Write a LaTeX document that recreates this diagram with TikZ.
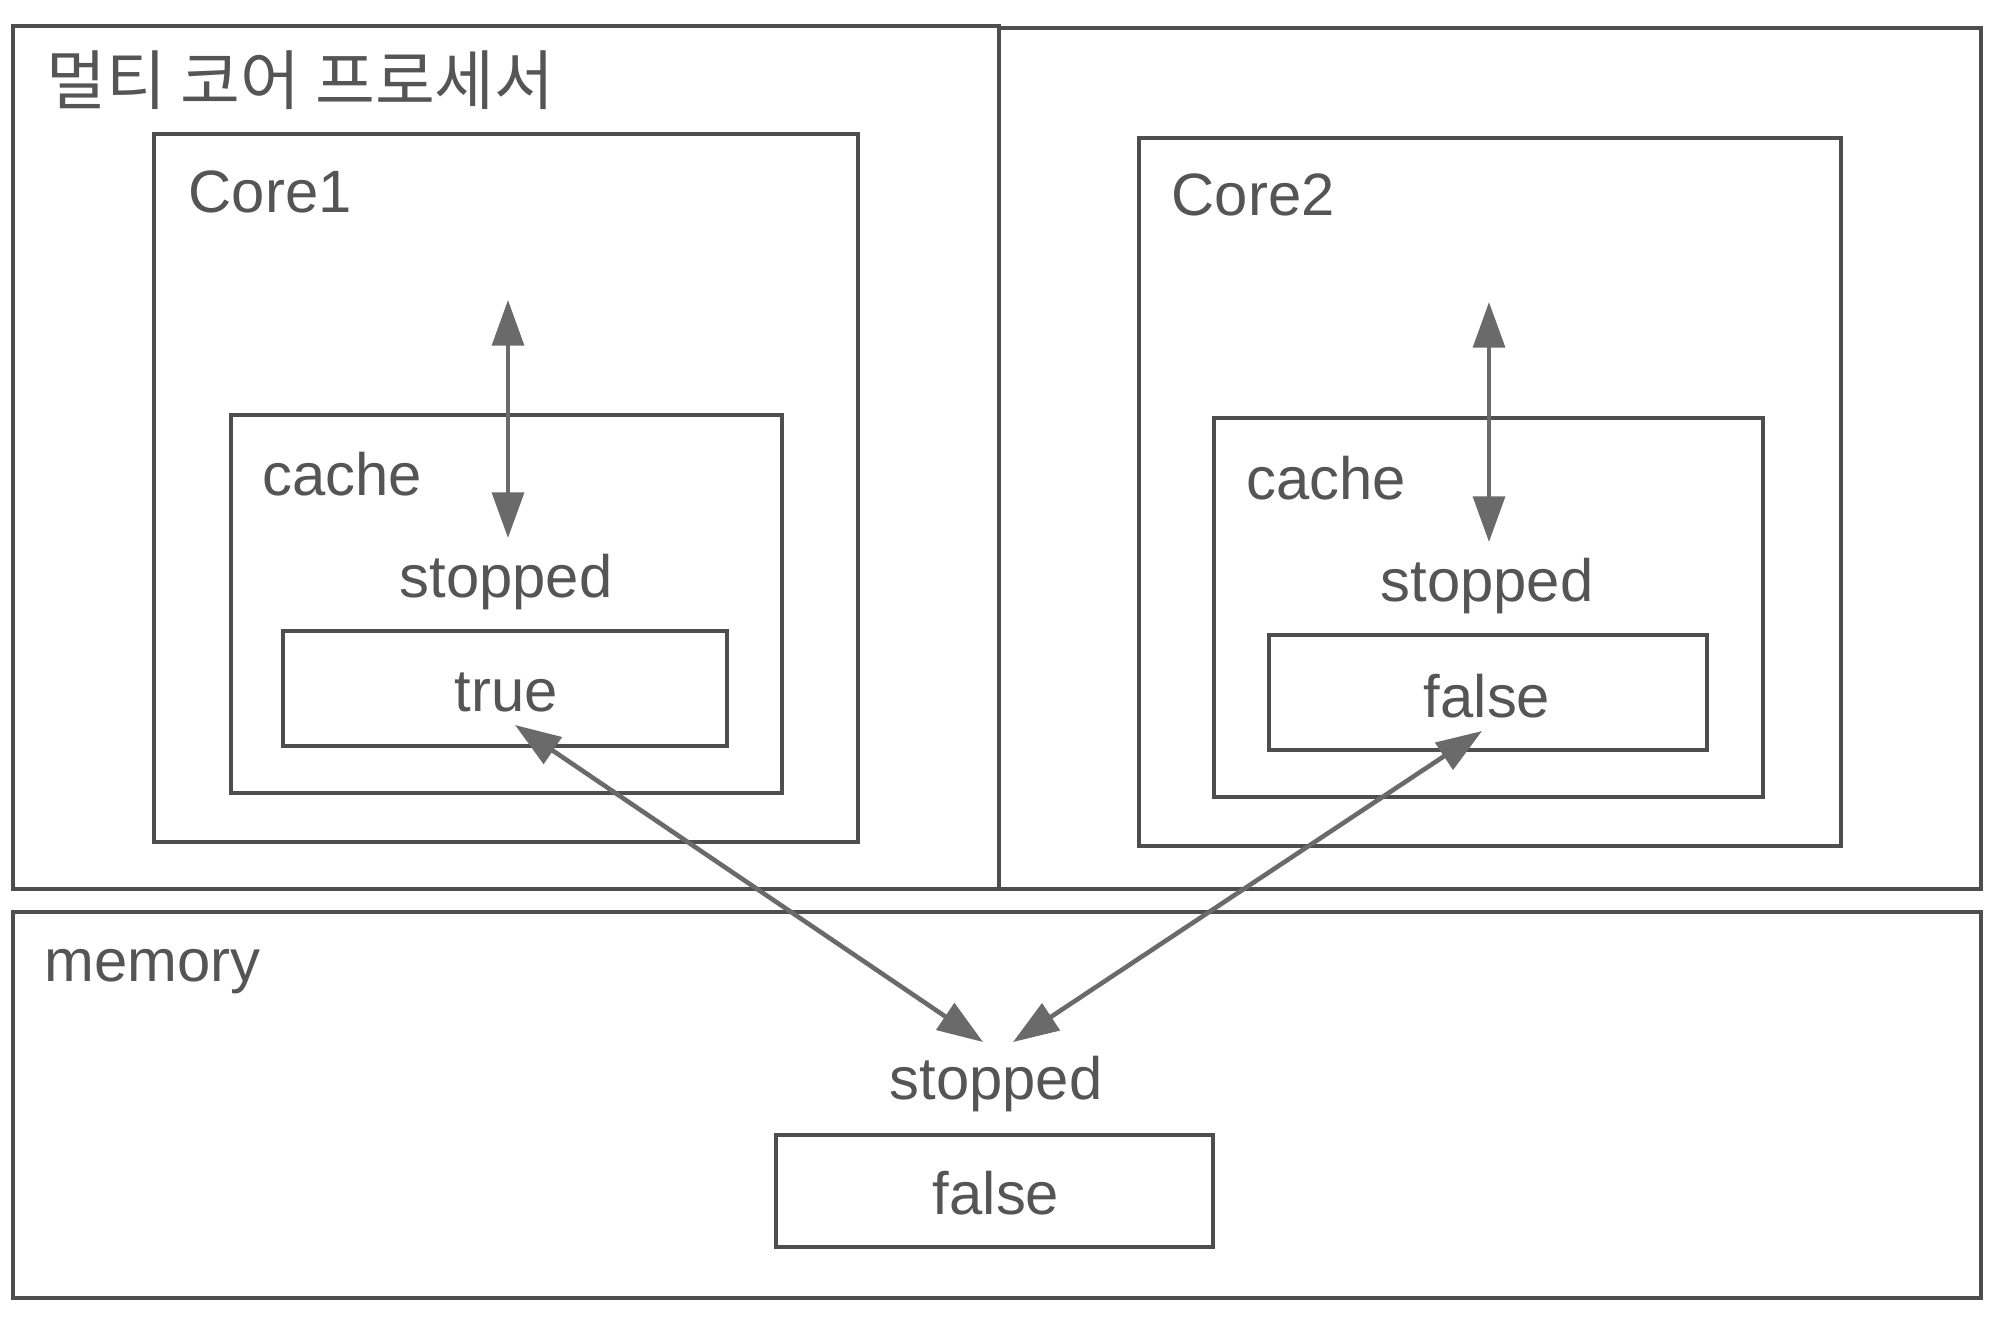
\documentclass[tikz,border=0pt]{standalone}
\usepackage{fontspec}
\setmainfont{Liberation Sans}
\newfontfamily\krfont{Noto Sans CJK KR}
\usetikzlibrary{arrows.meta}
\definecolor{linec}{HTML}{4E4E4E}
\definecolor{textc}{HTML}{555555}
\definecolor{arrc}{HTML}{6A6A6A}
\tikzset{
  box/.style={draw=linec, line width=1.1pt, rectangle, inner sep=0pt},
  valbox/.style={draw=linec, line width=0.9pt, rectangle, inner sep=0pt},
  lbl/.style={text=textc, inner sep=0pt, font=\fontsize{17}{20}\selectfont},
  conn/.style={draw=arrc, line width=1.3pt, {Triangle[length=13pt,width=9pt]}-{Triangle[length=13pt,width=9pt]}},
}
\begin{document}
\begin{tikzpicture}[x=0.01cm,y=-0.01cm]
\useasboundingbox (0,0) rectangle (2000,1323);
\fill[white] (0,0) rectangle (2000,1323);
% processor halves
\node[box, minimum width=986*0.01cm, minimum height=863*0.01cm] (procL) at (506,457.5) {};
\node[box, minimum width=982*0.01cm, minimum height=861*0.01cm] (procR) at (1490,458.5) {};
% memory
\node[box, minimum width=1968*0.01cm, minimum height=386*0.01cm] (mem) at (997,1105) {};
% cores
\node[box, minimum width=704*0.01cm, minimum height=708*0.01cm] (core1) at (506,488) {};
\node[box, minimum width=702*0.01cm, minimum height=708*0.01cm] (core2) at (1490,492) {};
% caches
\node[box, minimum width=551*0.01cm, minimum height=378*0.01cm] (cache1) at (506.5,604) {};
\node[box, minimum width=549*0.01cm, minimum height=379*0.01cm] (cache2) at (1488.5,607.5) {};
% value boxes
\node[valbox, minimum width=444*0.01cm, minimum height=115*0.01cm] (val1) at (505,688.5) {};
\node[valbox, minimum width=438*0.01cm, minimum height=115*0.01cm] (val2) at (1488,692.5) {};
\node[valbox, minimum width=437*0.01cm, minimum height=112*0.01cm] (valm) at (994.5,1191) {};
% labels
\node[lbl, anchor=west, font=\krfont\fontsize{18.5}{22}\selectfont] (proclbl) at (46,80) {멀티 코어 프로세서};
\node[lbl, anchor=west] (core1lbl) at (188,192) {Core1};
\node[lbl, anchor=west] (core2lbl) at (1171,195) {Core2};
\node[lbl, anchor=west] (cache1lbl) at (262,474) {cache};
\node[lbl, anchor=west] (cache2lbl) at (1246,478) {cache};
\node[lbl, anchor=west] (memlbl) at (44,972) {memory};
\node[lbl] (stop1) at (506,582) {stopped};
\node[lbl] (stop2) at (1487,586) {stopped};
\node[lbl] (stopm) at (996,1084) {stopped};
\node[lbl] (true1) at (506,692) {true};
\node[lbl] (false2) at (1487,696) {false};
\node[lbl] (falsem) at (996,1193) {false};
% connector end points
\coordinate (cpu1) at (508,300);
\coordinate (c1in) at (508,538);
\coordinate (cpu2) at (1489,302);
\coordinate (c2in) at (1489,542);
\coordinate (v1tip) at (515,725);
\coordinate (v2tip) at (1482,731);
\coordinate (m1tip) at (983,1042);
\coordinate (m2tip) at (1013,1042);
% connectors
\draw[conn] (cpu1) -- (c1in);
\draw[conn] (cpu2) -- (c2in);
\draw[conn] (v1tip) -- (m1tip);
\draw[conn] (v2tip) -- (m2tip);
\end{tikzpicture}
\end{document}
